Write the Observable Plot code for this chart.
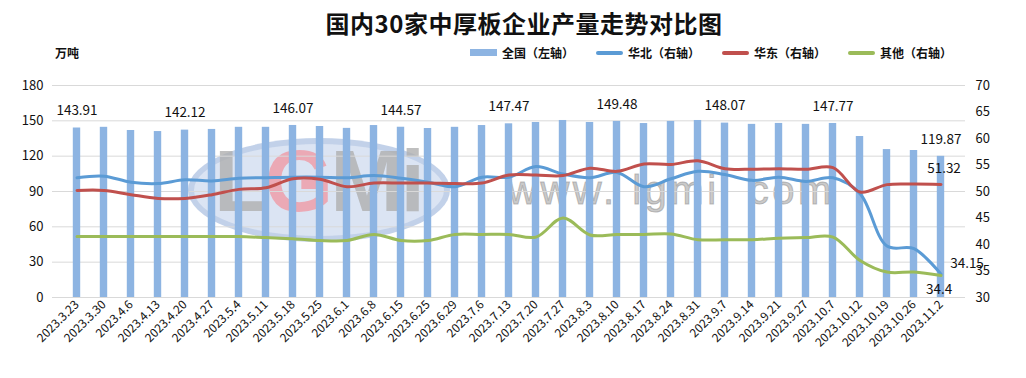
<!DOCTYPE html>
<html>
<head>
<meta charset="utf-8">
<script src="https://cdn.jsdelivr.net/npm/d3@7"></script>
<script src="https://cdn.jsdelivr.net/npm/@observablehq/plot@0.6"></script>
<style>
  body { margin: 0; background: #fff; }
  #wrap { position: relative; width: 1026px; height: 378px; font-family: "Noto Sans CJK SC", "Noto Sans", sans-serif; color: #111; overflow: hidden; background: #fff; }
  #title { position: absolute; left: 0; width: 1048px; top: 5px; text-align: center; font-size: 24px; font-weight: bold; letter-spacing: 0.5px; }
  #unit { position: absolute; left: 55px; top: 44px; font-size: 12px; font-weight: bold; }
  #legend { position: absolute; left: 470px; top: 44px; font-size: 12px; font-weight: bold; display: flex; align-items: center; }
  #legend .item { display: flex; align-items: center; margin-right: 22px; }
  #legend .sw { width: 27px; margin-right: 5px; }
  #chart { position: absolute; left: 0; top: 70px; z-index: 2; }
  #wm { position: absolute; left: 508px; top: 168px; font-size: 40px; font-family: "Liberation Sans", sans-serif; letter-spacing: 3.5px; color: rgba(185,185,185,0.75); -webkit-text-stroke: 1px rgba(150,150,150,0.6); white-space: pre; z-index: 1; }
  #logo { position: absolute; left: 188px; top: 138px; width: 250px; height: 92px; border-radius: 50%; border: 6px solid rgba(150,175,215,0.35); background: rgba(175,195,228,0.45); z-index: 1; }
  #logotxt { position: absolute; left: 214px; top: 130px; font-size: 88px; font-family: "Liberation Sans", sans-serif; font-weight: bold; letter-spacing: -3px; color: rgba(175,175,175,0.8); z-index: 1; white-space: pre; }
  #logotxt .g { color: rgba(240,150,160,0.75); }
</style>
</head>
<body>
<div id="wrap">
  <div id="title">国内30家中厚板企业产量走势对比图</div>
  <div id="unit">万吨</div>
  <div id="legend"></div>
  <div id="logo"></div>
  <div id="logotxt">L<span class="g">G</span>Mi</div>
  <div id="wm">www. lgmi. com</div>
  <div id="chart"></div>
</div>
<script>
const dates = ["2023.3.23","2023.3.30","2023.4.6","2023.4.13","2023.4.20","2023.4.27","2023.5.4","2023.5.11","2023.5.18","2023.5.25","2023.6.1","2023.6.8","2023.6.15","2023.6.25","2023.6.29","2023.7.6","2023.7.13","2023.7.20","2023.7.27","2023.8.3","2023.8.10","2023.8.17","2023.8.24","2023.8.31","2023.9.7","2023.9.14","2023.9.21","2023.9.27","2023.10.7","2023.10.12","2023.10.19","2023.10.26","2023.11.2"];
// 全国（左轴）
const total = [143.91,144.5,141.8,140.9,142.12,142.7,144.5,144.5,146.07,145.2,143.6,146.0,144.57,143.5,144.5,146.0,147.47,148.6,150.3,148.6,149.48,147.7,149.5,150.3,148.07,147.0,147.8,147.0,147.77,136.7,125.6,124.8,119.87];
// 华北（右轴）
const north = [52.6,52.9,51.75,51.5,52.2,52.0,52.5,52.6,52.7,52.7,52.6,53.0,52.5,51.75,50.9,52.7,52.7,54.7,53.3,52.6,53.6,50.9,52.4,53.8,53.2,52.1,52.7,51.9,52.6,49.6,39.7,39.2,34.4];
// 华东（右轴）
const east = [50.2,50.2,49.4,48.7,48.7,49.4,50.4,50.7,52.4,52.3,50.9,51.6,51.6,51.6,51.5,51.6,53.1,53.1,53.0,54.4,53.8,55.2,55.1,55.8,54.3,54.2,54.3,54.2,54.5,49.9,51.3,51.4,51.32];
// 其他（右轴）
const other = [41.5,41.5,41.5,41.5,41.5,41.5,41.5,41.3,41.1,40.75,40.75,41.9,40.75,40.75,41.9,41.9,41.9,41.4,45.0,41.8,41.9,41.9,42.0,40.9,40.9,40.9,41.2,41.3,41.4,37.0,34.8,34.8,34.15];

const leftTicks = [0,30,60,90,120,150,180];
const rightTicks = [30,35,40,45,50,55,60,65,70];
const labelIdx = [0,4,8,12,16,20,24,28,32];

const colors = {total:"#8db4e2", north:"#5b9bd5", east:"#c0504d", other:"#9bbb59"};
const legendItems = [
  {name:"全国（左轴）", key:"total", type:"bar"},
  {name:"华北（右轴）", key:"north", type:"line"},
  {name:"华东（右轴）", key:"east", type:"line"},
  {name:"其他（右轴）", key:"other", type:"line"}
];

// right axis (30..70) mapped onto left scale (0..180)
const r2l = v => (v - 30) * 180 / 40;

const data = dates.map((d, i) => ({date: d, total: total[i], north: north[i], east: east[i], other: other[i], i}));

const legend = document.getElementById("legend");
for (const it of legendItems) {
  const el = document.createElement("div");
  el.className = "item";
  const sw = document.createElement("div");
  sw.className = "sw";
  sw.style.height = it.type === "bar" ? "7px" : "4px";
  sw.style.borderRadius = it.type === "bar" ? "0" : "2px";
  sw.style.background = colors[it.key];
  const t = document.createElement("span");
  t.textContent = it.name;
  el.append(sw, t);
  legend.append(el);
}

const font = "Noto Sans CJK SC";
const lineOpts = key => ({x: "date", y: d => r2l(d[key]), stroke: colors[key], strokeWidth: 3, curve: "catmull-rom"});
const last = data[data.length - 1];

const chart = Plot.plot({
  width: 1026,
  height: 308,
  marginTop: 15,
  marginBottom: 81,
  marginLeft: 52,
  marginRight: 61,
  style: {fontFamily: font, color: "#111", background: "transparent"},
  x: {type: "band", domain: dates, padding: 0, label: null},
  y: {domain: [0, 180], label: null},
  marks: [
    Plot.gridY(leftTicks, {stroke: "#d9d9d9", strokeOpacity: 1, strokeWidth: 1}),
    Plot.barY(data, {x: "date", y: "total", fill: colors.total, insetLeft: 9.8, insetRight: 9.8}),
    Plot.line(data, lineOpts("north")),
    Plot.line(data, lineOpts("east")),
    Plot.line(data, lineOpts("other")),
    Plot.axisY(leftTicks, {anchor: "left", tickSize: 0, tickPadding: 9, fontSize: 13, label: null}),
    Plot.axisY(rightTicks.map(r2l), {anchor: "right", tickSize: 0, tickPadding: 10, fontSize: 13, label: null, tickFormat: d => String(Math.round(d * 40 / 180 + 30))}),
    Plot.axisX({tickRotate: -45, tickSize: 0, tickPadding: 5, fontSize: 12, label: null}),
    Plot.text(data.filter(d => labelIdx.includes(d.i)), {x: "date", y: "total", text: d => d.total.toFixed(2), dy: -17, fontSize: 13.5, fill: "#111"}),
    Plot.text([last], {x: "date", y: d => r2l(d.east), text: d => String(d.east), dy: -16, dx: 3, fontSize: 13.5, fill: "#111"}),
    Plot.text([last], {x: "date", y: d => r2l(d.other), text: d => String(d.other), dy: -12, dx: 26, fontSize: 13.5, fill: "#111"}),
    Plot.text([last], {x: "date", y: d => r2l(d.north), text: d => String(d.north), dy: 15, dx: -2, fontSize: 13.5, fill: "#111"})
  ]
});
document.getElementById("chart").append(chart);
</script>
</body>
</html>
